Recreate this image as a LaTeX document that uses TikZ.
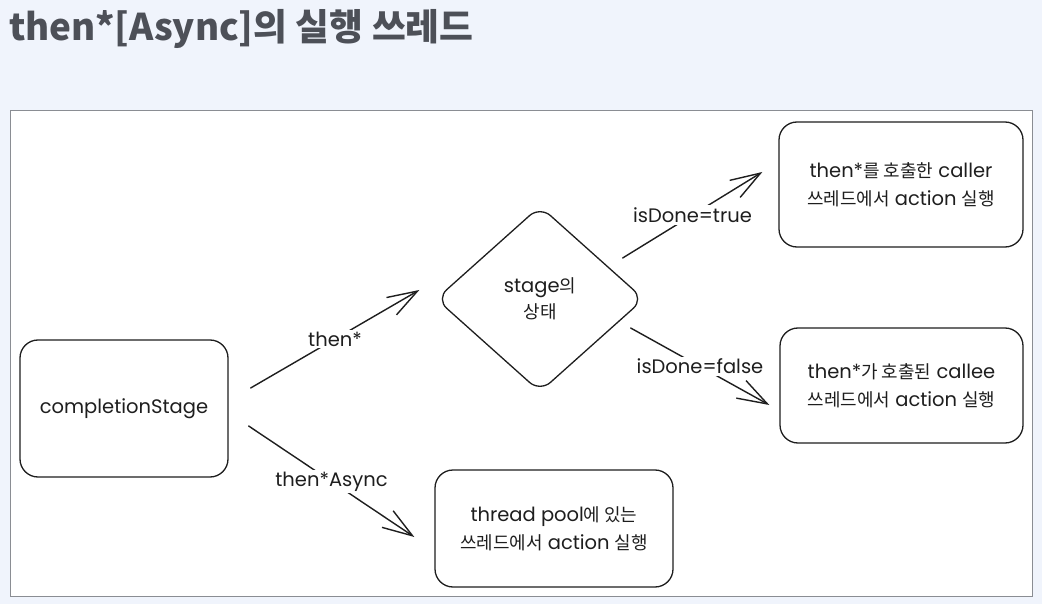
\documentclass[tikz,border=0pt]{standalone}
\usepackage{fontspec}
\setmainfont{Poppins}
\newfontfamily\krfont[Scale=0.92]{Noto Sans CJK KR}
\newfontfamily\titlefont{Noto Sans CJK KR}
\newcommand{\kr}[1]{{\krfont #1}}
\usepackage{xcolor}
\usetikzlibrary{arrows.meta,shapes.geometric}
\definecolor{pagebg}{HTML}{F0F4FC}
\definecolor{ink}{HTML}{1E1E1E}
\definecolor{titlegray}{HTML}{4D5058}
\definecolor{framegray}{HTML}{8A8D93}
\tikzset{
  rbox/.style={draw=ink, line width=1.3pt, rounded corners=18pt, inner sep=0pt,
               align=center, text=ink, font=\fontsize{19.5}{28}\selectfont},
  cond/.style={diamond, draw=ink, line width=1.3pt, rounded corners=14pt, inner sep=0pt,
               minimum width=208pt, minimum height=186pt, aspect=1.12,
               align=center, text=ink, font=\fontsize{19.5}{26}\selectfont},
  flow/.style={draw=ink, line width=1.4pt, line cap=round,
               -{Straight Barb[length=30pt, width=20pt, line width=1.4pt]}},
  lbl/.style={fill=white, inner sep=2pt, text=ink, font=\fontsize{19.5}{20}\selectfont},
}

\begin{document}
\begin{tikzpicture}[x={(1pt,0)}, y={(0,-1pt)}]
  \useasboundingbox (0,0) rectangle (1042,604);
  \fill[pagebg] (0,0) rectangle (1042,604);
  \node[anchor=base west, font=\titlefont\fontsize{36.8}{36}\selectfont\bfseries, text=titlegray, inner sep=0pt]
    (title) at (9,41) {then*[Async]의 실행 쓰레드};
  \draw[framegray, fill=white, line width=1pt] (10,111) rectangle (1032,596);

  % boxes
  \node[rbox, minimum width=208pt, minimum height=137pt] (cs) at (124,408.5) {completionStage};
  \node[cond] (st) at (540,299) {stage\kr{의}\\\kr{상태}};
  \node[rbox, minimum width=244pt, minimum height=125pt] (caller) at (901,184.5)
    {then*\kr{를 호출한} caller\\\kr{쓰레드에서} action \kr{실행}};
  \node[rbox, minimum width=243pt, minimum height=115pt] (callee) at (901.5,385.5)
    {then*\kr{가 호출된} callee\\\kr{쓰레드에서} action \kr{실행}};
  \node[rbox, minimum width=238pt, minimum height=117pt] (pool) at (554,528.5)
    {thread pool\kr{에 있는}\\\kr{쓰레드에서} action \kr{실행}};

  % connectors
  \draw[flow] ([shift={(22,-20.5)}]cs.east) -- node[lbl] {then*} ([shift={(-16,-9)}]st.west);
  \draw[flow] ([shift={(20,17.5)}]cs.east) -- node[lbl] {then*Async} ([shift={(-20,8.5)}]pool.west);
  \draw[flow] ([shift={(-22,-41)}]st.east) -- node[lbl] {isDone=true} ([shift={(-16,-12.5)}]caller.west);
  \draw[flow] ([shift={(-14,29)}]st.east) -- node[lbl] {isDone=false} ([shift={(-10,19.5)}]callee.west);
\end{tikzpicture}
\end{document}
